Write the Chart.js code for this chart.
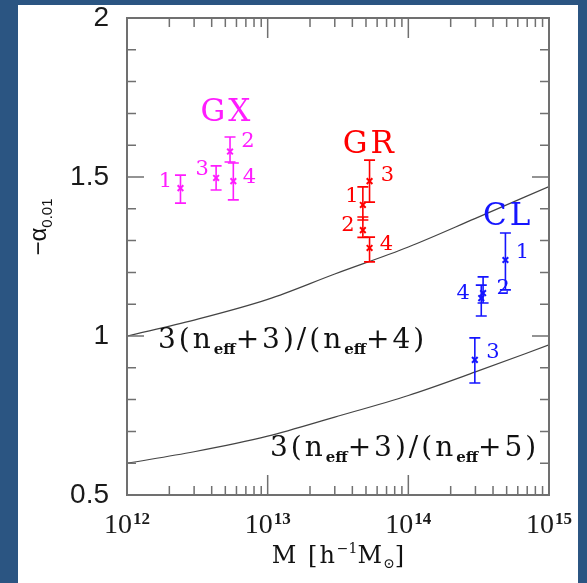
<!DOCTYPE html>
<html><head><meta charset="utf-8">
<script src="https://cdn.jsdelivr.net/npm/chart.js@4"></script>
<style>
html,body{margin:0;padding:0;background:#2b5582;width:587px;height:583px;overflow:hidden}
#wrap{position:absolute;left:18px;top:5px;width:560px;height:578px;background:#fff}
canvas{display:block}
</style></head><body>
<div id="wrap"><canvas id="c" width="560" height="578"></canvas></div>
<script>
// ---- data ----
const gxMass  = [2.4e12, 5.4e12, 4.3e12, 5.7e12];
const gxAlpha = [1.465, 1.580, 1.497, 1.487];
const gxLo    = [1.418, 1.547, 1.459, 1.428];
const gxHi    = [1.506, 1.626, 1.535, 1.544];
const gxIds   = ['1','2','3','4'];

const grMass  = [4.75e13, 4.75e13, 5.3e13, 5.3e13];
const grAlpha = [1.412, 1.333, 1.487, 1.277];
const grLo    = [1.365, 1.310, 1.421, 1.233];
const grHi    = [1.469, 1.374, 1.553, 1.311];
const grIds   = ['1','2','3','4'];

const clMass  = [4.9e14, 3.4e14, 2.97e14, 3.3e14];
const clAlpha = [1.239, 1.135, 0.925, 1.119];
const clLo    = [1.145, 1.104, 0.852, 1.063];
const clHi    = [1.324, 1.186, 0.994, 1.160];
const clIds   = ['1','2','3','4'];

const curveMass  = [1e12, 3e12, 1e13, 3e13, 1e14, 3e14, 1e15];
const curveUpper = [1.000, 1.050, 1.115, 1.195, 1.280, 1.370, 1.470]; // 3(neff+3)/(neff+4)
const curveLower = [0.600, 0.636, 0.685, 0.745, 0.813, 0.887, 0.972]; // 3(neff+3)/(neff+5)

const xMajorTicks = [1e12, 1e13, 1e14, 1e15];
const xMajorExps  = ['12', '13', '14', '15'];
const yTickLabels = ['0.5', '1', '1.5', '2'];

// ---- styling / layout ----
const MAG = '#ff1cff', RED = '#ff0000', BLUE = '#1515ff';

const groups = [
  {name:'GX', color:MAG, mass:gxMass, a:gxAlpha, lo:gxLo, hi:gxHi, ids:gxIds,
   labelAt:[5.0e12, 1.70], offs:[[-15,-7],[18,-10],[-14,-8],[16,-4]]},
  {name:'GR', color:RED, mass:grMass, a:grAlpha, lo:grLo, hi:grHi, ids:grIds,
   labelAt:[5.2e13, 1.60], offs:[[-11,-8],[-15,-5],[18,-6],[17,-3]]},
  {name:'CL', color:BLUE, mass:clMass, a:clAlpha, lo:clLo, hi:clHi, ids:clIds,
   labelAt:[5.0e14, 1.374], offs:[[17,-7],[20,-5],[18,-7],[-18,-5]]}
];

function xTickValues(){
  const v=[];
  for(let e=12;e<15;e++) for(let m=1;m<10;m++) v.push(m*Math.pow(10,e));
  v.push(1e15);
  return v;
}

function setFont(ctx,p,family){
  ctx.font = (p.w||'normal') + ' ' + p.s + 'px ' + (p.f||family);
  ctx.letterSpacing = (p.ls||0)+'px';
}
function richWidth(ctx, parts, family){
  let w=0; for(const p of parts){ setFont(ctx,p,family); w += ctx.measureText(p.t).width + (p.gap||0); }
  ctx.letterSpacing = '0px'; return w;
}
function drawRich(ctx, parts, x, y, family){
  let cx = x;
  for(const p of parts){
    setFont(ctx,p,family);
    ctx.fillText(p.t, cx, y + (p.dy||0));
    cx += ctx.measureText(p.t).width + (p.gap||0);
  }
  ctx.letterSpacing = '0px';
  return cx;
}

const decor = {
  id:'decor',
  afterDatasetsDraw(chart){
    const ctx = chart.ctx, xs = chart.scales.x, ys = chart.scales.y, a = chart.chartArea;
    ctx.save();
    // error bars
    for(const g of groups){
      ctx.strokeStyle = g.color; ctx.lineWidth = 1.6;
      for(let i=0;i<g.mass.length;i++){
        const px = xs.getPixelForValue(g.mass[i]);
        const y1 = ys.getPixelForValue(g.lo[i]), y2 = ys.getPixelForValue(g.hi[i]);
        ctx.beginPath();
        ctx.moveTo(px,y1); ctx.lineTo(px,y2);
        ctx.moveTo(px-5.5,y1); ctx.lineTo(px+5.5,y1);
        ctx.moveTo(px-5.5,y2); ctx.lineTo(px+5.5,y2);
        ctx.stroke();
      }
      // labels
      ctx.fillStyle = g.color; ctx.textAlign='center'; ctx.textBaseline='middle';
      ctx.font = '21px "DejaVu Serif"';
      for(let i=0;i<g.mass.length;i++){
        const px = xs.getPixelForValue(g.mass[i]), py = ys.getPixelForValue(g.a[i]);
        ctx.fillText(g.ids[i], px+g.offs[i][0], py+g.offs[i][1]);
      }
      ctx.font = '31px "DejaVu Serif"';
      ctx.letterSpacing = '3px';
      ctx.fillText(g.name, xs.getPixelForValue(g.labelAt[0]) + 1.5, ys.getPixelForValue(g.labelAt[1]));
      ctx.letterSpacing = '0px';
    }
    // frame
    ctx.strokeStyle = '#707070'; ctx.lineWidth = 2;
    ctx.strokeRect(a.left, a.top, a.right-a.left, a.bottom-a.top);
    ctx.lineWidth = 1.5;
    ctx.beginPath();
    for(const t of xs.ticks){
      const px = xs.getPixelForValue(t.value);
      const major = xMajorTicks.some(m=>Math.abs(m-t.value)/m<1e-9);
      const L = major ? 20 : 9;
      ctx.moveTo(px, a.bottom); ctx.lineTo(px, a.bottom-L);
      ctx.moveTo(px, a.top); ctx.lineTo(px, a.top+L);
    }
    for(const t of ys.ticks){
      const py = ys.getPixelForValue(t.value);
      const major = Math.abs(t.value*2 - Math.round(t.value*2)) < 1e-6;
      const L = major ? 17 : 9;
      ctx.moveTo(a.left, py); ctx.lineTo(a.left+L, py);
      ctx.moveTo(a.right, py); ctx.lineTo(a.right-L, py);
    }
    ctx.stroke();
    // x tick labels (10^n with superscript)
    ctx.fillStyle = '#1a1a1a'; ctx.textAlign='left'; ctx.textBaseline='alphabetic';
    xMajorTicks.forEach((v,i)=>{
      const parts = [{t:'10',s:28,f:'"Liberation Serif"',gap:1},{t:xMajorExps[i],s:17,w:'bold',f:'"Liberation Serif"',dy:-9}];
      const w = richWidth(ctx, parts, '');
      drawRich(ctx, parts, xs.getPixelForValue(v) - w/2, a.bottom + 38, '');
    });
    // curve labels
    ctx.fillStyle = '#111';
    const fam = '"DejaVu Serif"';
    const f1 = [{t:'3(n',s:28,ls:3},{t:'eff',s:15,dy:6,w:'bold'},{t:'+3)/(n',s:28,ls:3},{t:'eff',s:15,dy:6,w:'bold'},{t:'+4)',s:28,ls:3}];
    const f2 = [{t:'3(n',s:28,ls:3},{t:'eff',s:15,dy:6,w:'bold'},{t:'+3)/(n',s:28,ls:3},{t:'eff',s:15,dy:6,w:'bold'},{t:'+5)',s:28,ls:3}];
    drawRich(ctx, f1, a.left+31, ys.getPixelForValue(1.0)+12, fam);
    drawRich(ctx, f2, a.left+143, ys.getPixelForValue(0.659)+12, fam);
    // x title
    const xt = [{t:'M [h',s:24,ls:2},{t:'−1',s:14,dy:-10},{t:'M',s:24,ls:1},{t:'⊙',s:14,dy:5},{t:']',s:24}];
    drawRich(ctx, xt, (a.left+a.right)/2 - richWidth(ctx, xt, fam)/2, 558, fam);
    // y title
    ctx.save();
    ctx.translate(20, 222); ctx.rotate(-Math.PI/2);
    const yt = [{t:'−α',s:24},{t:'0.01',s:15,dy:6}];
    drawRich(ctx, yt, -richWidth(ctx, yt, '"Liberation Sans"')/2, 8, '"Liberation Sans"');
    ctx.restore();
    ctx.restore();
  }
};

const datasets = [];
for(const g of groups){
  datasets.push({
    label:g.name,
    data:g.mass.map((m,i)=>({x:m,y:g.a[i]})),
    pointStyle:'crossRot', pointRadius:4, borderWidth:2,
    borderColor:g.color, backgroundColor:g.color, showLine:false
  });
}
datasets.push({label:'upper', data:curveMass.map((m,i)=>({x:m,y:curveUpper[i]})),
  showLine:true, pointRadius:0, borderColor:'#444', borderWidth:1.2, cubicInterpolationMode:'monotone'});
datasets.push({label:'lower', data:curveMass.map((m,i)=>({x:m,y:curveLower[i]})),
  showLine:true, pointRadius:0, borderColor:'#444', borderWidth:1.2, cubicInterpolationMode:'monotone'});

new Chart(document.getElementById('c'), {
  type:'scatter',
  data:{datasets},
  options:{
    responsive:false, devicePixelRatio:1, animation:false,
    layout:{padding:{left:0,right:29,top:13,bottom:0}},
    plugins:{legend:{display:false}, tooltip:{enabled:false}},
    scales:{
      x:{type:'logarithmic', min:1e12, max:1e15,
        afterBuildTicks:s=>{s.ticks = xTickValues().map(v=>({value:v}));},
        afterFit:s=>{s.height = 88; s.paddingLeft=0; s.paddingRight=0;},
        grid:{display:false}, border:{display:false},
        ticks:{display:false, autoSkip:false}
      },
      y:{type:'linear', min:0.5, max:2,
        afterFit:s=>{s.width = 109; s.paddingTop=0; s.paddingBottom=0;},
        grid:{display:false}, border:{display:false},
        ticks:{stepSize:0.1, autoSkip:false, padding:10, color:'#1a1a1a',
          font:{family:'"Liberation Sans"', size:28},
          callback:(v)=>{const s=String(Math.round(v*10)/10); return yTickLabels.includes(s)?s:'';}}
      }
    }
  },
  plugins:[decor]
});
</script>
</body></html>
